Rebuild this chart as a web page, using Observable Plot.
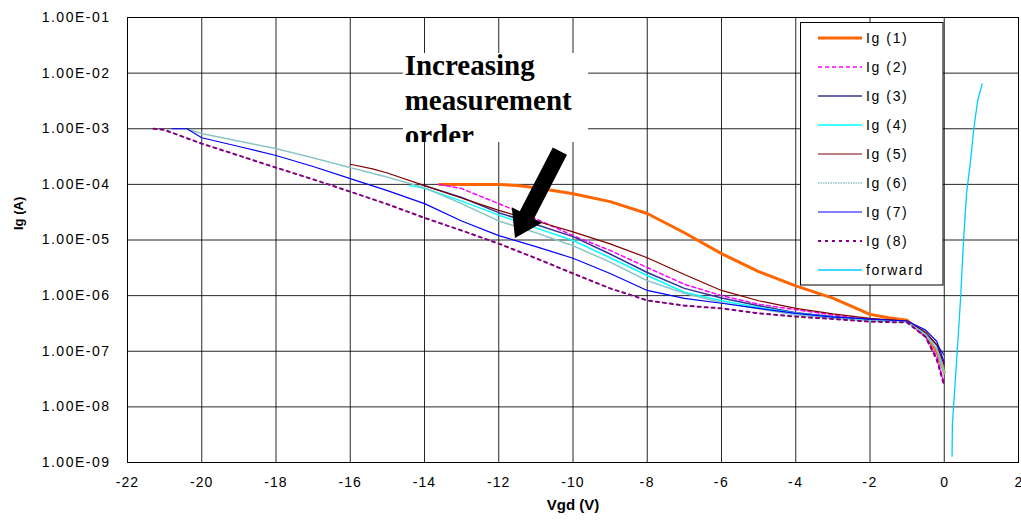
<!DOCTYPE html>
<html>
<head>
<meta charset="utf-8">
<script src="https://cdn.jsdelivr.net/npm/d3@7"></script>
<script src="https://cdn.jsdelivr.net/npm/@observablehq/plot@0.6"></script>
<style>
  html, body { margin: 0; padding: 0; background: #fff; }
  #chart { width: 1021px; height: 522px; }
</style>
</head>
<body>
<div id="chart"></div>
<script>
// ---------- data ----------
const seriesNames = ["Ig (1)", "Ig (2)", "Ig (3)", "Ig (4)", "Ig (5)", "Ig (6)", "Ig (7)", "Ig (8)", "forward"];

const v1 = [-13.6, -13, -12, -11.5, -11, -10, -9, -8, -7, -6, -5, -4, -3, -2, -1.5, -1, -0.5, -0.2, 0];
const i1 = [1e-4, 1e-4, 1e-4, 9.5e-5, 8.7e-5, 6.8e-5, 4.9e-5, 3.0e-5, 1.35e-5, 5.7e-6, 2.7e-6, 1.5e-6, 9e-7, 4.6e-7, 4.0e-7, 3.6e-7, 1.9e-7, 1.0e-7, 4.2e-8];

const v2 = [-13.6, -13, -12, -11, -10, -9, -8, -7, -6, -5, -4, -3, -2, -1, -0.5, -0.2, 0];
const i2 = [1e-4, 8.4e-5, 4.5e-5, 2.4e-5, 1.2e-5, 6.5e-6, 3.2e-6, 1.6e-6, 1.0e-6, 7.0e-7, 5.6e-7, 4.5e-7, 3.7e-7, 3.4e-7, 1.8e-7, 8e-8, 2.6e-8];

const v3 = [-14.1, -13, -12, -11, -10, -9, -8, -7, -6, -5, -4, -3, -2, -1, -0.5, -0.2, 0];
const i3 = [1e-4, 5.8e-5, 3.1e-5, 1.9e-5, 1.15e-5, 5.6e-6, 2.6e-6, 1.35e-6, 9.1e-7, 6.6e-7, 4.9e-7, 4.2e-7, 3.7e-7, 3.5e-7, 2.1e-7, 1.3e-7, 8.5e-8];

const v4 = [-14.4, -14, -13, -12, -11, -10, -9, -8, -7, -6, -5, -4, -3, -2, -1, -0.5, -0.2, 0];
const i4 = [9.5e-5, 8.5e-5, 5e-5, 2.8e-5, 1.65e-5, 9.8e-6, 4.8e-6, 2.3e-6, 1.15e-6, 8.1e-7, 6.1e-7, 4.8e-7, 4.1e-7, 3.5e-7, 3.4e-7, 2e-7, 1.1e-7, 4.3e-8];

const v5 = [-16, -15.4, -15, -14, -13, -12, -11, -10, -9, -8, -7, -6, -5, -4, -3, -2, -1, -0.5, -0.2, 0];
const i5 = [2.3e-4, 1.9e-4, 1.6e-4, 9.5e-5, 5.7e-5, 3.4e-5, 2.2e-5, 1.4e-5, 8.5e-6, 4.8e-6, 2.4e-6, 1.24e-6, 8.1e-7, 5.9e-7, 4.7e-7, 3.9e-7, 3.5e-7, 2.2e-7, 1.3e-7, 5.6e-8];

const v6 = [-20.3, -20, -19, -18, -17, -16, -15, -14, -13, -12, -11, -10, -9, -8, -7, -6, -5, -4, -3, -2, -1, -0.5, -0.2, 0];
const i6 = [9.5e-4, 8.2e-4, 6.0e-4, 4.4e-4, 3.0e-4, 2.0e-4, 1.35e-4, 8.7e-5, 4.5e-5, 2.2e-5, 1.35e-5, 7.9e-6, 4.0e-6, 1.86e-6, 1.1e-6, 7.5e-7, 5.8e-7, 4.5e-7, 3.9e-7, 3.5e-7, 3.4e-7, 2.0e-7, 1.1e-7, 4.0e-8];

const v7 = [-20.8, -20.4, -20, -19, -18, -17, -16, -15, -14, -13, -12, -11, -10, -9, -8, -7, -6, -5, -4, -3, -2, -1, -0.5, -0.2, 0];
const i7 = [1e-3, 1e-3, 6.9e-4, 4.8e-4, 3.3e-4, 2.1e-4, 1.27e-4, 7.7e-5, 4.5e-5, 2.2e-5, 1.2e-5, 7.6e-6, 4.7e-6, 2.5e-6, 1.24e-6, 8.9e-7, 7.3e-7, 5.9e-7, 4.8e-7, 4.1e-7, 3.8e-7, 3.5e-7, 2.4e-7, 1.5e-7, 6.3e-8];

const v8 = [-21.3, -21, -20, -19, -18, -17, -16, -15, -14, -13, -12, -11, -10, -9, -8, -7, -6, -5, -4, -3, -2, -1, -0.5, -0.2, 0];
const i8 = [1e-3, 9.5e-4, 5.4e-4, 3.3e-4, 2.0e-4, 1.23e-4, 7.4e-5, 4.4e-5, 2.5e-5, 1.48e-5, 8.6e-6, 4.7e-6, 2.5e-6, 1.35e-6, 8.2e-7, 6.6e-7, 5.9e-7, 4.8e-7, 4.2e-7, 3.8e-7, 3.4e-7, 3.3e-7, 1.8e-7, 7e-8, 2.4e-8];

const vF = [0.21, 0.22, 0.35, 0.44, 0.52, 0.60, 0.71, 0.79, 0.90, 1.02];
const iF = [1.3e-9, 5e-9, 1e-7, 9e-7, 9.8e-6, 6.8e-5, 2.7e-4, 9.3e-4, 3.2e-3, 6.4e-3];

const xTicks = [-22, -20, -18, -16, -14, -12, -10, -8, -6, -4, -2, 0, 2];
const xTickLabels = ["-22", "-20", "-18", "-16", "-14", "-12", "-10", "-8", "-6", "-4", "-2", "0", "2"];
const yTicks = [1e-9, 1e-8, 1e-7, 1e-6, 1e-5, 1e-4, 1e-3, 1e-2, 1e-1];
const yTickLabels = ["1.00E-09", "1.00E-08", "1.00E-07", "1.00E-06", "1.00E-05", "1.00E-04", "1.00E-03", "1.00E-02", "1.00E-01"];

const xLabel = "Vgd (V)";
const yLabel = "Ig (A)";
const annotationLines = ["Increasing", "measurement", "order"];

// ---------- styles ----------
const seriesStyle = [
  {stroke: "#FF6600", width: 3, dash: null},
  {stroke: "#FF00FF", width: 1.5, dash: "4,3"},
  {stroke: "#333399", width: 1.5, dash: null},
  {stroke: "#00FFFF", width: 1.5, dash: null},
  {stroke: "#800000", width: 1.2, dash: null},
  {stroke: "#88C4C4", width: 1.5, dash: "1.5,1"},
  {stroke: "#0000FF", width: 1.2, dash: null},
  {stroke: "#800080", width: 2, dash: "3,4"},
  {stroke: "#00CCFF", width: 1.3, dash: null}
];

const seriesV = [v1, v2, v3, v4, v5, v6, v7, v8, vF];
const seriesI = [i1, i2, i3, i4, i5, i6, i7, i8, iF];

const rows = [];
seriesNames.forEach((name, s) => {
  seriesV[s].forEach((v, k) => rows.push({series: name, v, i: seriesI[s][k]}));
});

// annotation placement in data space
const annotBox = {x1: -14.57, x2: -9.58, y1: 2.25e-2, y2: 5.65e-4};
const annotTextX = -14.52;
const annotBaselines = [9.06e-3, 2.12e-3, 5.0e-4];
const arrowTail = {v: -10.34, i: 3.89e-4};
const arrowTip = {v: -11.55, i: 1.06e-5};

const lineMarks = seriesNames.map((name, s) =>
  Plot.line(rows.filter(r => r.series === name), {
    x: "v", y: "i",
    stroke: seriesStyle[s].stroke,
    strokeWidth: seriesStyle[s].width,
    strokeDasharray: seriesStyle[s].dash,
    strokeLinejoin: "round"
  })
);

const yFmt = d => yTickLabels[yTicks.findIndex(t => Math.abs(Math.log10(t) - Math.log10(d)) < 1e-6)];
const xFmt = d => xTickLabels[xTicks.indexOf(d)];

const plot = Plot.plot({
  width: 1021,
  height: 522,
  marginLeft: 127,
  marginRight: 3,
  marginTop: 17,
  marginBottom: 60,
  style: {fontFamily: "'Liberation Sans', Arial, sans-serif", fontSize: "13px", background: "#fff", color: "#000"},
  x: {domain: [-22, 2], label: null},
  y: {type: "log", domain: [1e-9, 1e-1], label: null},
  marks: [
    Plot.gridX(xTicks, {stroke: "#000", strokeOpacity: 0.85}),
    Plot.gridY(yTicks, {stroke: "#000", strokeOpacity: 0.85}),
    Plot.axisX(xTicks, {tickSize: 0, tickPadding: 15, tickFormat: xFmt, label: null}),
    Plot.axisY(yTicks, {tickSize: 0, tickPadding: 17, tickFormat: yFmt, label: null}),
    Plot.frame({stroke: "#000"}),
    Plot.rect([annotBox], {x1: "x1", x2: "x2", y1: "y1", y2: "y2", fill: "#fff"}),
    ...lineMarks,
    Plot.text([xLabel], {text: d => d, frameAnchor: "bottom", dy: 47, fontWeight: "bold", fontSize: 15}),
    Plot.text([yLabel], {text: d => d, frameAnchor: "left", dx: -109, dy: -10, rotate: -90, fontWeight: "bold", fontSize: 13})
  ]
});

document.getElementById("chart").appendChild(plot);

const sx = plot.scale("x").apply;
const sy = plot.scale("y").apply;
const svg = d3.select(plot);

// tick label typography: size, then spread to match the original's label widths
function fitLabels(sel, size, targetWidthFor) {
  sel.each(function() {
    const el = this;
    el.style.fontSize = size + "px";
    el.style.fontFamily = "'Liberation Sans', Arial, sans-serif";
    el.style.letterSpacing = "0px";
    const txt = el.textContent;
    const target = targetWidthFor(txt);
    const w = el.getComputedTextLength();
    if (w > 0 && txt.length > 1) {
      const ls = Math.max(0, Math.min(1.5, (target - w) / (txt.length - 0.5)));
      el.style.letterSpacing = ls + "px";
    }
  });
}
fitLabels(svg.selectAll("text").filter(function() { return yTickLabels.includes(this.textContent); }), 14, () => 71);
fitLabels(svg.selectAll("text").filter(function() { return xTickLabels.includes(this.textContent); }), 14, t => t.length * 7.6);

// annotation text (clipped like the original text box)
const defs = svg.append("defs");
defs.append("clipPath").attr("id", "annotClip")
  .append("rect")
  .attr("x", sx(annotBox.x1)).attr("y", sy(annotBox.y1))
  .attr("width", sx(annotBox.x2) - sx(annotBox.x1))
  .attr("height", sy(annotBox.y2) - sy(annotBox.y1));
const annot = svg.append("g").attr("clip-path", "url(#annotClip)").attr("text-anchor", "start");
annotationLines.forEach((t, k) => {
  annot.append("text")
    .attr("x", sx(annotTextX)).attr("y", sy(annotBaselines[k]))
    .attr("text-anchor", "start")
    .attr("font-family", "'Liberation Serif', 'Times New Roman', serif")
    .attr("font-weight", "bold").attr("font-size", 29).attr("fill", "#000")
    .text(t);
});

// arrow
{
  const tx = sx(arrowTail.v), ty = sy(arrowTail.i);
  const hx = sx(arrowTip.v), hy = sy(arrowTip.i);
  const len = Math.hypot(hx - tx, hy - ty);
  const ux = (hx - tx) / len, uy = (hy - ty) / len;
  const nx = -uy, ny = ux;
  const sw = 8, hw = 17, hl = 26;
  const bx = hx - ux * hl, by = hy - uy * hl;
  const pts = [
    [tx + nx * sw, ty + ny * sw],
    [bx + nx * sw, by + ny * sw],
    [bx + nx * hw, by + ny * hw],
    [hx, hy],
    [bx - nx * hw, by - ny * hw],
    [bx - nx * sw, by - ny * sw],
    [tx - nx * sw, ty - ny * sw]
  ];
  svg.append("path").attr("d", "M" + pts.map(p => p.join(",")).join("L") + "Z").attr("fill", "#000");
}

// legend
{
  const lg = svg.append("g").attr("text-anchor", "start");
  lg.append("rect").attr("x", 800.5).attr("y", 22.5).attr("width", 142.5).attr("height", 262.5)
    .attr("fill", "#fff").attr("stroke", "#000");
  seriesNames.forEach((name, s) => {
    const y = 38 + s * 29;
    const st = seriesStyle[s];
    lg.append("line").attr("x1", 818).attr("x2", 862).attr("y1", y).attr("y2", y)
      .attr("stroke", st.stroke).attr("stroke-width", st.width)
      .attr("stroke-dasharray", st.dash);
    lg.append("text").attr("x", 866).attr("y", y).attr("dy", "0.36em")
      .attr("text-anchor", "start")
      .attr("font-family", "'Liberation Sans', Arial, sans-serif").attr("font-size", 14)
      .attr("letter-spacing", "1.6px").attr("fill", "#000").text(name);
  });
}
</script>
</body>
</html>
